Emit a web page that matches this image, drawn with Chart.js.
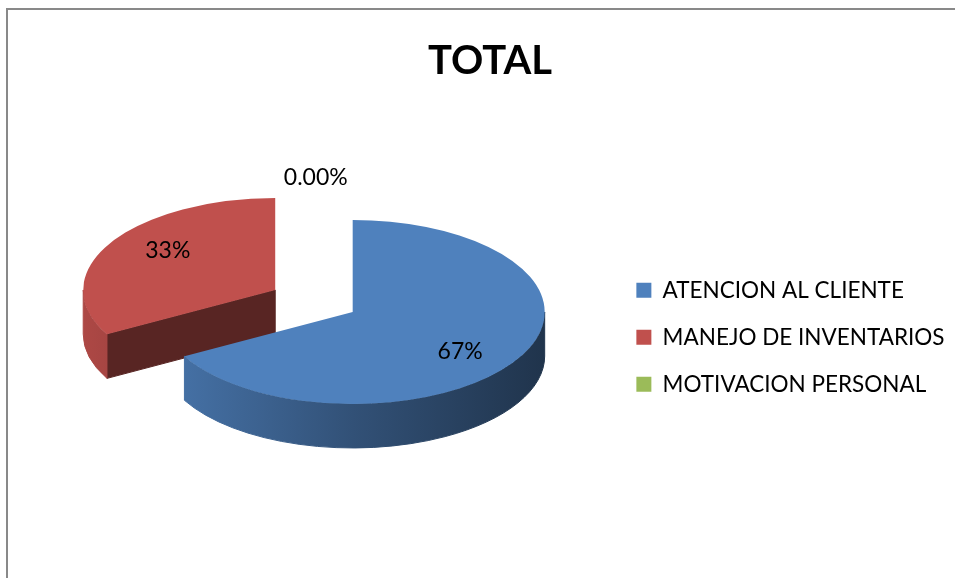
<!DOCTYPE html>
<html>
<head>
<meta charset="utf-8">
<title>TOTAL</title>
<script src="https://cdn.jsdelivr.net/npm/chart.js@4.4.1/dist/chart.umd.min.js"></script>
<style>
  html, body { margin: 0; padding: 0; background: #fff; overflow: hidden; }
  #totalchart { display: block; }
</style>
</head>
<body>
<canvas id="totalchart" width="955" height="578"></canvas>
<script>
var titulo = "TOTAL";
var categorias = ["ATENCION AL CLIENTE", "MANEJO DE INVENTARIOS", "MOTIVACION PERSONAL"];
var porcentajes = [67, 33, 0];

// darken a #rrggbb colour by factor f
function shade(hex, f) {
  var n = parseInt(hex.slice(1), 16);
  var r = Math.round(((n >> 16) & 255) * f);
  var g = Math.round(((n >> 8) & 255) * f);
  var b = Math.round((n & 255) * f);
  return "rgb(" + r + "," + g + "," + b + ")";
}

function pctText(v) {
  return v === 0 ? v.toFixed(2) + "%" : v + "%";
}

// one pie wedge drawn as a tilted slab: cut faces, rim, then the top
function drawSlice(ctx, s, depth) {
  var cx = s.x, cy = s.y;

  var faces = [];
  if (Math.cos(s.a0) < -0.01) faces.push(s.a0);
  if (Math.cos(s.a1) > 0.01) faces.push(s.a1);
  ctx.lineWidth = 1;
  ctx.fillStyle = ctx.strokeStyle = shade(s.color, 0.46);
  faces.forEach(function(a) {
    var px = cx + s.rx * Math.cos(a), py = cy + s.ry * Math.sin(a);
    ctx.beginPath();
    ctx.moveTo(cx, cy);
    ctx.lineTo(px, py);
    ctx.lineTo(px, py + depth);
    ctx.lineTo(cx, cy + depth);
    ctx.closePath();
    ctx.fill();
    ctx.stroke();
  });

  // rim, only where it faces the front
  var grad = ctx.createLinearGradient(cx - s.rx, 0, cx + s.rx, 0);
  grad.addColorStop(0, shade(s.color, 0.9));
  grad.addColorStop(0.5, shade(s.color, 0.63));
  grad.addColorStop(1, shade(s.color, 0.4));
  for (var k = -1; k <= 1; k++) {
    var lo = Math.max(s.a0, 2 * Math.PI * k);
    var hi = Math.min(s.a1, 2 * Math.PI * k + Math.PI);
    if (hi <= lo) continue;
    ctx.beginPath();
    ctx.ellipse(cx, cy, s.rx, s.ry, 0, lo, hi, false);
    ctx.ellipse(cx, cy + depth, s.rx, s.ry, 0, hi, lo, true);
    ctx.closePath();
    ctx.fillStyle = ctx.strokeStyle = grad;
    ctx.fill();
    ctx.stroke();
  }

  ctx.beginPath();
  ctx.moveTo(cx, cy);
  ctx.ellipse(cx, cy, s.rx, s.ry, 0, s.a0, s.a1, false);
  ctx.closePath();
  ctx.fillStyle = s.color;
  ctx.fill();
}

var pie3d = {
  id: "pie3d",
  beforeDatasetsDraw: function(chart, args, opts) {
    var ctx = chart.ctx;
    var meta = chart.getDatasetMeta(0);
    var values = chart.data.datasets[0].data;

    var slices = meta.data.map(function(arc, i) {
      var p = arc.getProps(["x", "y", "startAngle", "endAngle", "outerRadius"]);
      var mid = (p.startAngle + p.endAngle) / 2;
      var off = arc.options.offset || 0;
      var rx = p.outerRadius;
      return {
        a0: p.startAngle, a1: p.endAngle, mid: mid,
        rx: rx, ry: rx * opts.tilt,
        x: p.x + Math.cos(mid) * off,
        y: p.y + Math.sin(mid) * off * opts.tilt,
        color: arc.options.backgroundColor,
        value: values[i]
      };
    });

    ctx.save();
    // back wedges first
    slices.slice().sort(function(a, b) {
      return (a.y + Math.sin(a.mid) * a.ry) - (b.y + Math.sin(b.mid) * b.ry);
    }).forEach(function(s) {
      if (s.a1 - s.a0 > 0) drawSlice(ctx, s, opts.depth);
    });

    ctx.font = opts.font;
    ctx.fillStyle = "#000";
    ctx.textBaseline = "middle";
    slices.forEach(function(s) {
      if (s.value > 0) {
        ctx.textAlign = "center";
        ctx.fillText(pctText(s.value),
          s.x + Math.cos(s.mid) * s.rx * 0.65,
          s.y + Math.sin(s.mid) * s.ry * 0.85);
      } else {
        // empty wedge: label sits above the rim
        ctx.textAlign = "right";
        ctx.fillText(pctText(s.value),
          s.x + Math.cos(s.mid) * s.rx - 5,
          s.y + Math.sin(s.mid) * s.ry - 42);
      }
    });
    ctx.restore();
    return false;
  }
};

// grey frame along the top and left, title centred on the frame
var frame = {
  id: "frame",
  beforeDraw: function(chart, args, opts) {
    var ctx = chart.ctx;
    ctx.save();
    ctx.strokeStyle = "#898989";
    ctx.lineWidth = 2;
    ctx.beginPath();
    ctx.moveTo(7, chart.height);
    ctx.lineTo(7, 9);
    ctx.lineTo(chart.width, 9);
    ctx.stroke();

    ctx.font = opts.font;
    ctx.fillStyle = "#000";
    ctx.textAlign = "center";
    ctx.textBaseline = "middle";
    ctx.fillText(opts.text, opts.x, opts.y);
    ctx.restore();
  }
};

var ctx = document.getElementById("totalchart").getContext("2d");
var totalchart = new Chart(ctx, {
  type: "pie",
  data: {
    labels: categorias,
    datasets: [{
      data: porcentajes,
      backgroundColor: ["#4f81bd", "#c0504d", "#9bbb59"],
      borderWidth: 0,
      offset: [0, 90, 0],
      radius: 192
    }]
  },
  options: {
    responsive: false,
    animation: false,
    events: [],
    layout: { padding: { left: 93.5, right: 0.5, top: 204, bottom: 158 } },
    plugins: {
      title: { display: false },
      legend: {
        position: "right",
        align: "end",
        fullSize: false,
        labels: {
          color: "#000",
          boxWidth: 15,
          boxHeight: 15,
          padding: 24.5,
          font: { family: "Lato, 'Open Sans', sans-serif", size: 22.5 }
        }
      },
      tooltip: { enabled: false },
      frame: { text: titulo, x: 490, y: 61, font: "bold 40px Lato, 'Open Sans', sans-serif" },
      pie3d: { tilt: 0.479, depth: 44, font: "23px Lato, 'Open Sans', sans-serif" }
    }
  },
  plugins: [frame, pie3d]
});
</script>
</body>
</html>
